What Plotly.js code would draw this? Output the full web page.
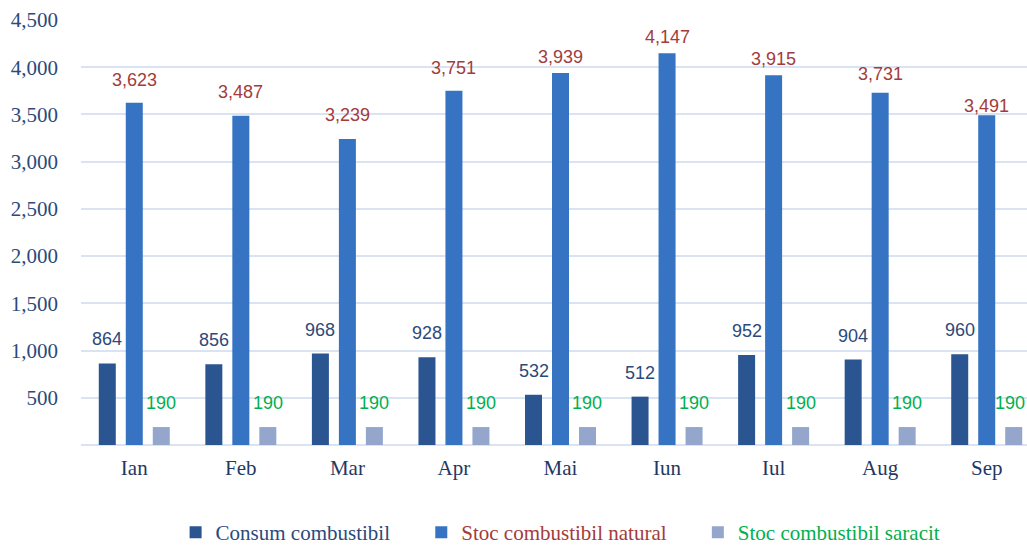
<!DOCTYPE html>
<html>
<head>
<meta charset="utf-8">
<script src="https://cdn.plot.ly/plotly-3.0.1.min.js"></script>
<style>html,body{margin:0;padding:0;background:#fff;overflow:hidden}#chart{width:1027px;height:546px}</style>
</head>
<body>
<div id="chart"></div>
<script>
// ---- data ----
var months = ['Ian', 'Feb', 'Mar', 'Apr', 'Mai', 'Iun', 'Iul', 'Aug', 'Sep'];
var consum = [864, 856, 968, 928, 532, 512, 952, 904, 960];
var stocNatural = [3623, 3487, 3239, 3751, 3939, 4147, 3915, 3731, 3491];
var stocSaracit = [190, 190, 190, 190, 190, 190, 190, 190, 190];
var seriesNames = ['Consum combustibil', 'Stoc combustibil natural', 'Stoc combustibil saracit'];
var yTicks = [500, 1000, 1500, 2000, 2500, 3000, 3500, 4000, 4500];

// ---- styles ----
var barColors = ['#2a5591', '#3673c2', '#95a6cd'];
var textColors = ['#2b4a7a', '#a33b3b', '#00b050'];
var naturalLabelLift = [23, 24, 24, 23, 16, 16, 16, 19, 9];
var serif = 'Liberation Serif, Times New Roman, serif';
var sans = 'Liberation Sans, Arial, sans-serif';
var pad = '\u00a0\u00a0\u00a0\u00a0\u00a0';

var series = [consum, stocNatural, stocSaracit];
var traces = series.map(function (vals, k) {
  return {
    type: 'bar',
    x: months,
    y: vals,
    name: '<span style="color:' + textColors[k] + '">' + seriesNames[k] + '</span>' + pad,
    marker: {color: barColors[k]},
    hoverinfo: 'x+y'
  };
});

var offsets = [-0.2533, 0, 0.2533];
var annotations = [];
series.forEach(function (vals, k) {
  vals.forEach(function (v, i) {
    var lift = (k === 1) ? naturalLabelLift[i] : 24;
    var edgeShift = (k === 2 && i === vals.length - 1) ? -4 : 0;
    annotations.push({
      xref: 'x', yref: 'y',
      x: i + offsets[k], y: v,
      text: v.toLocaleString('en-US'),
      showarrow: false,
      yanchor: 'middle', xanchor: 'center',
      yshift: lift,
      xshift: edgeShift,
      font: {family: sans, size: 18, color: textColors[k]}
    });
  });
});

var layout = {
  width: 1027, height: 546,
  margin: {l: 81, r: 0, t: 20, b: 101, autoexpand: false},
  paper_bgcolor: '#ffffff', plot_bgcolor: '#ffffff',
  barmode: 'group',
  bargap: 0.24,
  bargroupgap: 0.37,
  showlegend: true,
  legend: {
    orientation: 'h',
    xref: 'paper', yref: 'paper',
    x: 0.1, xanchor: 'left',
    y: -0.206, yanchor: 'middle',
    itemwidth: 30,
    font: {family: serif, size: 21, color: '#2b4a7a'},
    bgcolor: 'rgba(0,0,0,0)',
    traceorder: 'normal'
  },
  xaxis: {
    type: 'category',
    range: [-0.5, 8.378],
    showgrid: false,
    showline: false,
    zeroline: false,
    ticks: '',
    ticklabelstandoff: 8,
    tickfont: {family: serif, size: 21, color: '#1f3864'}
  },
  yaxis: {
    range: [0, 4500],
    tickvals: yTicks,
    ticktext: yTicks.map(function (t) { return t.toLocaleString('en-US'); }),
    showgrid: true,
    gridcolor: '#d9e3f1',
    gridwidth: 2,
    zeroline: true,
    zerolinecolor: '#d9e3f1',
    zerolinewidth: 2,
    showline: false,
    ticks: '',
    ticklabelstandoff: 22,
    tickfont: {family: serif, size: 21, color: '#2b4a7a'}
  },
  annotations: annotations
};

Plotly.newPlot('chart', traces, layout, {staticPlot: true, displayModeBar: false});
</script>
</body>
</html>
